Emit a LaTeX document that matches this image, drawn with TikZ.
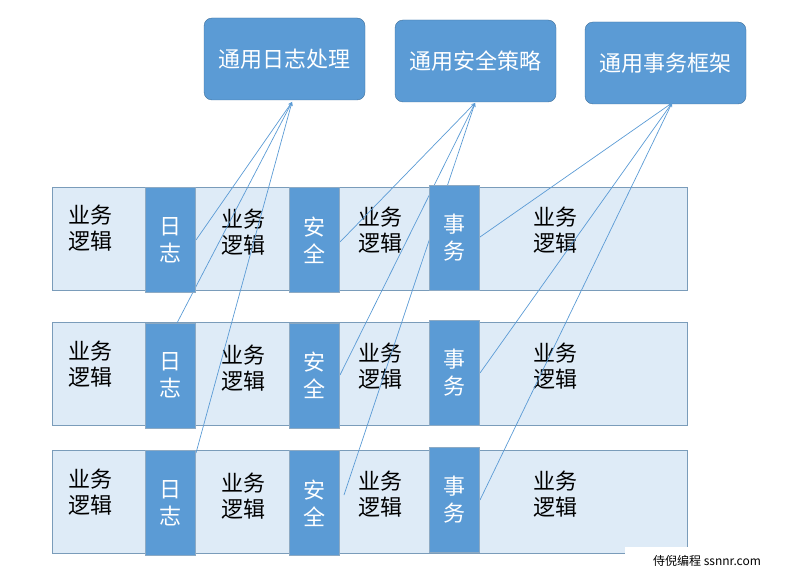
\documentclass[tikz,border=0pt]{standalone}
\usepackage{fontspec}
\setmainfont{Noto Sans CJK SC}
\usetikzlibrary{positioning}
\definecolor{midblue}{HTML}{5B9BD5}
\definecolor{edgeblue}{HTML}{41719C}
\definecolor{paleblue}{HTML}{DEEBF7}
\tikzset{
  topbox/.style={draw=edgeblue, fill=midblue, rounded corners=8pt, text=white,
    minimum width=161pt, minimum height=82pt, font=\fontsize{22}{26}\selectfont},
  rowbox/.style={draw=edgeblue!70, fill=paleblue, minimum width=635pt, minimum height=103pt},
  tagbox/.style={draw=edgeblue!60, fill=midblue, text=white, minimum width=50pt,
    minimum height=105pt, align=center, font=\fontsize{22}{27}\selectfont},
  logic/.style={align=center, font=\fontsize{22}{26}\selectfont},
  link/.style={midblue, line width=0.7pt, -stealth}
}
\begin{document}
\begin{tikzpicture}[x=1pt,y=-1pt]
\useasboundingbox (0,0) rectangle (800,575);
% aspect boxes
\node[topbox] (log) at (284.5,59) {通用日志处理};
\node[topbox] (sec) at (475.5,61) {通用安全策略};
\node[topbox] (tx)  at (665.5,63) {通用事务框架};
% business rows
\foreach \r/\y in {1/238.5, 2/374, 3/502} {
  \node[rowbox] (row\r) at (369.5,\y) {};
  \node[logic] (bizA\r) at (90,\y-10) {业务\\逻辑};
  \node[logic] (bizB\r) at (243,\y-6) {业务\\逻辑};
  \node[logic] (bizC\r) at (380,\y-8) {业务\\逻辑};
  \node[logic] (bizD\r) at (555,\y-8) {业务\\逻辑};
}
% connectors
\coordinate (logtip) at (292,102);
\coordinate (sectip) at (475,103);
\coordinate (txtip)  at (672,103);
\draw[link] (196,240) -- (logtip);
\draw[link] (177,323) -- (logtip);
\draw[link] (196,453) -- (logtip);
\draw[link] (340,242) -- (sectip);
\draw[link] (340,375) -- (sectip);
\draw[link] (344,495) -- (sectip);
\draw[link] (480,237) -- (txtip);
\draw[link] (480,373) -- (txtip);
\draw[link] (480,500) -- (txtip);
% aspect tags
\foreach \r/\y/\t in {1/240/237.5, 2/375.5/372.5, 3/503/499.5} {
  \node[tagbox] (logtag\r) at (170.5,\y) {日\\志};
  \node[tagbox] (sectag\r) at (314,\y) {安\\全};
  \node[tagbox] (txtag\r)  at (454.5,\t) {事\\务};
}
% watermark
\node[fill=white, minimum width=165pt, minimum height=28pt,
  font=\fontsize{12}{14}\selectfont] (mark) at (707,561) {侍倪编程 ssnnr.com};
\end{tikzpicture}
\end{document}
